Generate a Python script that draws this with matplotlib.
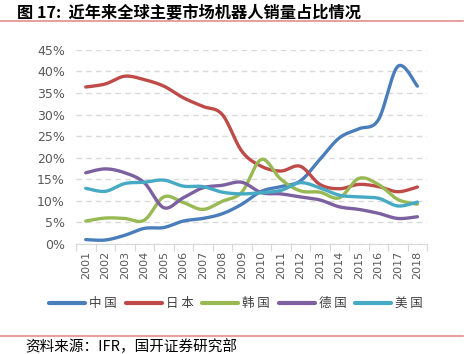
import numpy as np
import matplotlib
matplotlib.use('Agg')
import matplotlib.pyplot as plt
from matplotlib.lines import Line2D

plt.rcParams['font.family'] = ['Noto Sans CJK SC', 'DejaVu Sans']

years = [str(y) for y in range(2001, 2019)]
china = [1.0, 0.9, 2.0, 3.6, 3.8, 5.3, 5.9, 7.0, 9.2, 12.2, 13.3, 14.6, 19.6, 24.6, 26.7, 28.8, 41.2, 36.6]
japan = [36.4, 37.1, 38.9, 38.1, 36.6, 33.9, 31.9, 30.0, 21.5, 18.0, 16.9, 18.0, 13.8, 12.8, 13.8, 13.3, 12.1, 13.2]
korea = [5.3, 6.0, 5.9, 5.5, 10.9, 9.6, 8.0, 9.9, 12.0, 19.6, 15.0, 12.3, 12.0, 10.7, 15.2, 13.8, 10.3, 9.2]
germany = [16.5, 17.4, 16.5, 14.2, 8.4, 10.7, 13.0, 13.6, 14.3, 11.9, 11.6, 10.9, 10.2, 8.6, 8.0, 7.1, 5.9, 6.3]
usa = [12.9, 12.2, 14.0, 14.3, 14.8, 13.4, 13.3, 12.0, 11.6, 11.9, 12.4, 14.2, 13.0, 11.3, 10.9, 10.6, 8.8, 9.7]

names = ['中国', '日本', '韩国', '德国', '美国']
colors = ['#4A7EBB', '#BE4B48', '#98B954', '#7D60A0', '#46AAC5']
series = [china, japan, korea, germany, usa]


def smooth(xs, ys, n=20):
    # Catmull-Rom style smoothing, similar to Excel smoothed lines
    xs = np.asarray(xs, float)
    ys = np.asarray(ys, float)
    px = np.concatenate([[xs[0]], xs, [xs[-1]]])
    py = np.concatenate([[ys[0]], ys, [ys[-1]]])
    ox, oy = [], []
    t = np.linspace(0, 1, n)
    for i in range(1, len(px) - 2):
        p0 = np.array([px[i], py[i]])
        p3 = np.array([px[i + 1], py[i + 1]])
        p1 = p0 + (np.array([px[i + 1], py[i + 1]]) - np.array([px[i - 1], py[i - 1]])) / 6
        p2 = p3 - (np.array([px[i + 2], py[i + 2]]) - np.array([px[i], py[i]])) / 6
        b = ((1 - t) ** 3)[:, None] * p0 + (3 * (1 - t) ** 2 * t)[:, None] * p1 \
            + (3 * (1 - t) * t ** 2)[:, None] * p2 + (t ** 3)[:, None] * p3
        ox.extend(b[:, 0])
        oy.extend(b[:, 1])
    return np.array(ox), np.array(oy)


fig = plt.figure(figsize=(4.72, 3.54), dpi=100)
ax = fig.add_axes([0.161, 0.311, 0.744, 0.548])

x = np.arange(1, len(years) + 1)
for vals, c, nm in zip(series, colors, names):
    sx, sy = smooth(x, np.array(vals) / 100)
    ax.plot(sx, sy, color=c, lw=2.4, solid_capstyle='round', label=nm, zorder=3)

ax.set_xlim(0.5, len(years) + 0.5)
ax.set_ylim(0, 0.45)
ax.set_yticks(np.arange(0, 0.46, 0.05))
ax.set_yticklabels(['%d%%' % round(v * 100) for v in np.arange(0, 0.46, 0.05)],
                   fontsize=9, color='#595959', family=['DejaVu Sans'])
ax.yaxis.grid(True, color='#D9D9D9', linestyle=(0, (4, 3)), lw=1)
ax.set_axisbelow(True)
ax.tick_params(axis='y', length=0, pad=8)

ax.set_xticks(np.arange(0.5, len(years) + 1, 1))
ax.set_xticklabels([])
ax.set_xticks(x, minor=True)
ax.set_xticklabels(years, minor=True, rotation=90, fontsize=8, color='#595959',
                   family=['DejaVu Sans'])
ax.tick_params(axis='x', which='major', length=5, color='#D9D9D9')
ax.tick_params(axis='x', which='minor', length=0, pad=5)

for s in ['top', 'right', 'left']:
    ax.spines[s].set_visible(False)
ax.spines['bottom'].set_color('#D9D9D9')

handles = [Line2D([], [], color=c, lw=3, solid_capstyle='round') for c in colors]
legend_labels = [' '.join(nm) for nm in names]
fig.legend(handles, legend_labels, loc='center', bbox_to_anchor=(0.5, 0.142), ncol=5,
           frameon=False, fontsize=9, handlelength=2.9, columnspacing=0.7,
           handletextpad=0.3, labelcolor='#404040')

fig.text(0.035, 0.962, '图 17:  近年来全球主要市场机器人销量占比情况', fontsize=11.7,
         fontweight='bold', va='center', ha='left')
fig.add_artist(Line2D([0, 0.98], [0.940, 0.940], color='#E38E8E', lw=1.2))
fig.add_artist(Line2D([0, 0.98], [0.050, 0.050], color='#E38E8E', lw=1.2))
fig.text(0.053, 0.020, '资料来源：IFR，国开证券研究部', fontsize=10.5, va='center', ha='left')

fig.savefig('out.png', dpi=100)
